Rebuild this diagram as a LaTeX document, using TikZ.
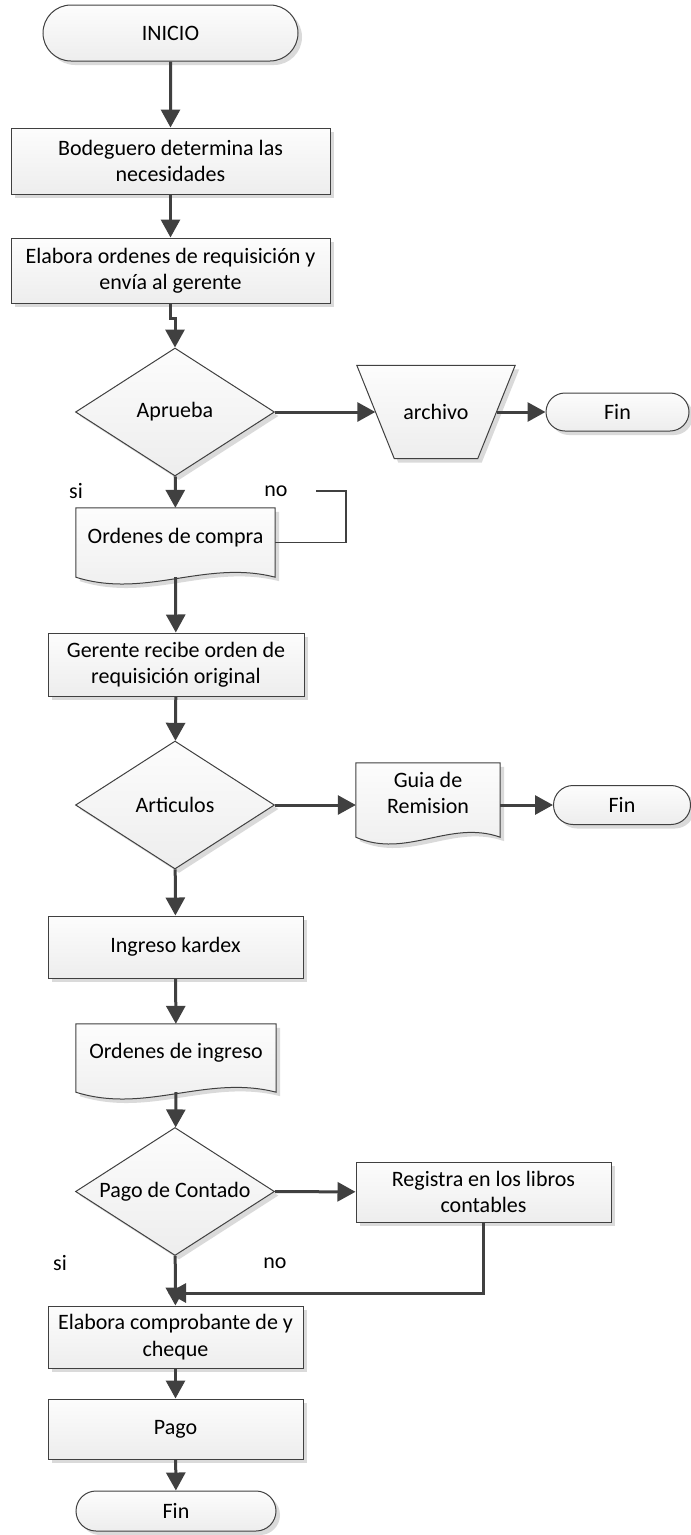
\documentclass[tikz,border=0pt]{standalone}
\usepackage{fontspec}
\setmainfont{Carlito}
\usetikzlibrary{positioning}
\usetikzlibrary{calc}
\usetikzlibrary{arrows.meta}
\usetikzlibrary{shapes.misc}
\usetikzlibrary{shapes.geometric}
\usetikzlibrary{shadows}
\usetikzlibrary{backgrounds}
\definecolor{lineg}{RGB}{64,64,64}
\definecolor{shadowg}{RGB}{218,218,218}

\tikzset{
  shadebox/.style={draw=lineg, line width=1pt, top color=gray!2, bottom color=gray!14,
    drop shadow={shadow xshift=4pt, shadow yshift=-4pt, fill=shadowg, opacity=1}},
  procbox/.style={shadebox, rectangle, align=center, inner sep=0pt,
    minimum width=255pt, minimum height=62pt},
  termbox/.style={shadebox, rounded rectangle, inner sep=0pt},
  decision/.style={shadebox, diamond, aspect=1.55, inner sep=0pt,
    minimum width=199pt, minimum height=128pt},
  docnode/.style={rectangle, inner sep=0pt, align=center, text depth=14pt},
  plainnode/.style={rectangle, inner sep=0pt, align=center},
  docline/.style={draw=lineg, line width=1pt, top color=gray!2, bottom color=gray!14},
  arr/.style={draw=lineg, line width=3pt, -{Triangle[length=18pt,width=19pt]}},
  thinline/.style={draw=lineg, line width=1.2pt},
  lbl/.style={inner sep=0pt}
}

% document symbol drawn round a plain node
\newcommand\docoutline[1]{%
  \fill[shadowg, transform canvas={xshift=4pt, yshift=-4pt}]
    (#1.north west) -- (#1.north east) -- (#1.south east)
    .. controls ($(#1.south east)!0.35!(#1.south west)+(0,-18)$) and ($(#1.south east)!0.65!(#1.south west)+(0,22)$) .. (#1.south west) -- cycle;
  \path[docline]
    (#1.north west) -- (#1.north east) -- (#1.south east)
    .. controls ($(#1.south east)!0.35!(#1.south west)+(0,-18)$) and ($(#1.south east)!0.65!(#1.south west)+(0,22)$) .. (#1.south west) -- cycle;
}

% manual operation symbol, narrower at the bottom
\newcommand\trapoutline[2]{%
  \fill[shadowg, transform canvas={xshift=4pt, yshift=-4pt}]
    (#1.north west) -- (#1.north east) -- ($(#1.south east)+(-#2,0)$) -- ($(#1.south west)+(#2,0)$) -- cycle;
  \path[docline]
    (#1.north west) -- (#1.north east) -- ($(#1.south east)+(-#2,0)$) -- ($(#1.south west)+(#2,0)$) -- cycle;
}

\begin{document}
\begin{tikzpicture}[x=1pt, y=-1pt, font=\fontsize{22}{26.5}\selectfont]
    \useasboundingbox (0,0) rectangle (691,1535);

    % main column
    \node[termbox, minimum width=255pt, minimum height=56pt] (inicio) at (170.5,33) {INICIO};
    \node[procbox, minimum width=319pt, minimum height=66pt] (bodeg) at (170.5,161) {Bodeguero determina las\\necesidades};
    \node[procbox, minimum width=319pt, minimum height=65pt] (elab) at (170.5,270.5) {Elabora ordenes de requisición y\\envía al gerente};
    \node[decision] (aprueba) at (175,412) {Aprueba};
    \node[docnode, minimum width=199pt, minimum height=69pt] (ocompra) at (175.5,542.5) {Ordenes de compra};
    \node[procbox, minimum width=256pt, minimum height=63pt] (gerente) at (176,664.5) {Gerente recibe orden de\\requisición original};
    \node[decision] (articulos) at (175,805) {Articulos};
    \node[procbox] (ingreso) at (175.5,947) {Ingreso kardex};
    \node[docnode, minimum width=200pt, minimum height=68pt] (oingreso) at (176,1058) {Ordenes de ingreso};
    \node[decision] (pago) at (175,1191.5) {Pago de Contado};
    \node[procbox] (comprob) at (175.5,1337) {Elabora comprobante de y\\cheque};
    \node[procbox, minimum height=60pt] (pagobox) at (175.5,1429) {Pago};
    \node[termbox, minimum width=200pt, minimum height=40pt] (fin3) at (176,1511) {Fin};

    % right branches
    \node[plainnode, minimum width=158pt, minimum height=93pt] (archivo) at (436,412) {archivo};
    \node[termbox, minimum width=143pt, minimum height=38pt] (fin1) at (617.5,412) {Fin};
    \node[docnode, minimum width=144pt, minimum height=74pt] (guia) at (428,800) {Guia de\\Remision};
    \node[termbox, minimum width=137pt, minimum height=39pt] (fin2) at (622,805) {Fin};
    \node[procbox, minimum height=60pt] (registra) at (483.5,1192) {Registra en los libros\\contables};

    \begin{pgfonlayer}{background}
        \trapoutline{archivo}{37.5}
        \docoutline{ocompra}
        \docoutline{guia}
        \docoutline{oingreso}
    \end{pgfonlayer}

    % labels
    \node[lbl] (si1) at (76,491) {si};
    \node[lbl] (no1) at (276,491) {no};
    \node[lbl] (si2) at (60,1263) {si};
    \node[lbl] (no2) at (275,1263) {no};

    \coordinate (noend) at (316,491);
    \coordinate (nocorner) at (346,491);
    \coordinate (junc) at (168,1293);

    % connectors
    \draw[arr] (inicio) -- (bodeg);
    \draw[arr] (bodeg) -- (elab);
    \draw[arr] (elab.south) -- ++(0,15) -| (aprueba.north);
    \draw[arr] (aprueba.east) -- ($(archivo.west)+(18.5,0)$);
    \draw[arr] ($(archivo.east)+(-18.5,0)$) -- (fin1);
    \draw[arr] (aprueba) -- (ocompra);
    \draw[thinline] (noend) -- (nocorner) |- (ocompra.east);
    \draw[arr] (ocompra.south) -- (gerente);
    \draw[arr] (gerente) -- (articulos);
    \draw[arr] (articulos) -- (guia.west |- articulos);
    \draw[arr] (guia.east |- fin2) -- (fin2);
    \draw[arr] (articulos) -- (ingreso);
    \draw[arr] (ingreso) -- (oingreso);
    \draw[arr] (oingreso.south) -- (pago);
    \draw[arr] (pago) -- (registra);
    \draw[arr] (registra.south) |- (junc);
    \draw[arr] (pago) -- (comprob);
    \draw[arr] (comprob) -- (pagobox);
    \draw[arr] (pagobox) -- (fin3);
\end{tikzpicture}
\end{document}
